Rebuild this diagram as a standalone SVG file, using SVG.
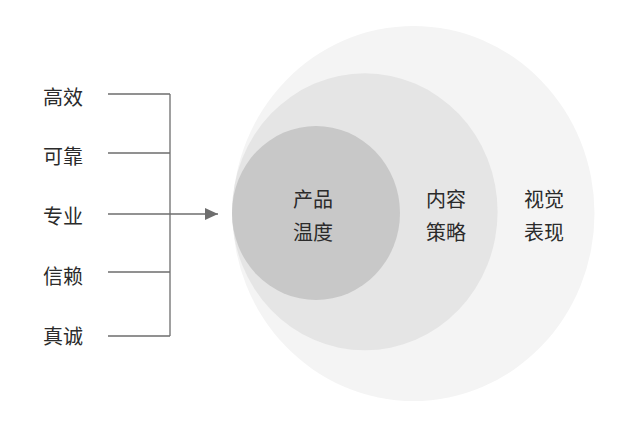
<svg xmlns="http://www.w3.org/2000/svg" width="632" height="436" viewBox="0 0 632 436">
<style>
text{font-family:"Noto Sans CJK SC","Noto Sans",sans-serif;font-size:20px;fill:#2b2b2b}
.c{text-anchor:middle}
.ln{stroke:#6e6e6e;stroke-width:1.3;fill:none}
</style>
<defs>
<marker id="ah" markerWidth="13" markerHeight="12" refX="13" refY="6" orient="auto" markerUnits="userSpaceOnUse">
<path d="M0,0 L13,6 L0,12 Z" fill="#6e6e6e"/>
</marker>
</defs>
<rect width="632" height="436" fill="#fff"/>
<g id="outer"><ellipse cx="413.5" cy="213.5" rx="181" ry="187.5" fill="#f4f4f4"/><text class="c" x="544" y="207">视觉</text><text class="c" x="544" y="240">表现</text></g>
<g id="middle"><ellipse cx="364.8" cy="211.8" rx="132.8" ry="138.5" fill="#e5e5e5"/><text class="c" x="446" y="207">内容</text><text class="c" x="446" y="240">策略</text></g>
<g id="inner"><ellipse cx="316" cy="213" rx="84" ry="87" fill="#c8c8c8"/><text class="c" x="313" y="207">产品</text><text class="c" x="313" y="240">温度</text></g>
<g id="l1"><text x="43" y="105">高效</text></g>
<g id="l2"><text x="43" y="164">可靠</text></g>
<g id="l3"><text x="43" y="224">专业</text></g>
<g id="l4"><text x="43" y="284">信赖</text></g>
<g id="l5"><text x="43" y="344">真诚</text></g>
<g id="connectors">
<path class="ln" d="M108,94 H170 M108,153 H170 M108,272 H170 M108,336 H170 M170,94 V336"/>
<path class="ln" d="M108,214 H218" marker-end="url(#ah)"/>
</g>
</svg>
